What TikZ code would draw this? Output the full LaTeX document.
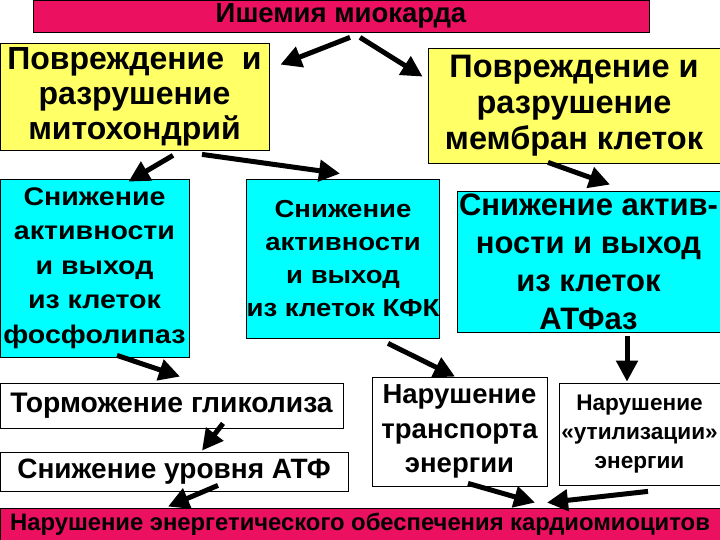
\documentclass[tikz,border=0pt]{standalone}
\usepackage{fontspec}
\setmainfont{Liberation Sans}
\newfontfamily\widesans{Liberation Sans}[FakeStretch=1.12]
\usetikzlibrary{arrows.meta,calc}

\definecolor{ischpink}{RGB}{236,16,96}
\definecolor{damyellow}{RGB}{255,255,102}
\definecolor{actcyan}{RGB}{0,255,255}

\newcommand{\fs}[2]{\fontsize{#1}{#2}\selectfont\bfseries}

\begin{document}
\begin{tikzpicture}[x=1pt,y=-1pt,>={Triangle[length=21pt,width=21pt]},
  every node/.style={draw,inner sep=0pt,align=center,line width=0.8pt},
  arr/.style={->,line width=5pt}]
  \useasboundingbox (0,0) rectangle (720,540);

  % top and bottom bars
  \node[fill=ischpink,minimum width=616,minimum height=32,font=\fs{27.5}{30}] at (341,16) (isch) {Ишемия миокарда};
  \node[fill=ischpink,minimum width=720,minimum height=32,font=\fs{23.8}{27}] at (360,524) (energy) {Нарушение энергетического обеспечения кардиомиоцитов};

  % damage
  \node[fill=damyellow,minimum width=269,minimum height=107,font=\fs{32}{35}] at (134.5,96.5) (mito) {Повреждение\ \ и\\разрушение\\митохондрий};
  \node[fill=damyellow,minimum width=292,minimum height=115,font=\fs{32.5}{36}] at (574,105.5) (memb) {Повреждение и\\разрушение\\мембран клеток};

  % enzymes
  \node[fill=actcyan,minimum width=189,minimum height=178,font=\widesans\fs{25.5}{34.5}] at (94.5,268) (fosfo) {Снижение\\активности\\и выход\\из клеток\\фосфолипаз};
  \node[fill=actcyan,minimum width=192,minimum height=159,font=\widesans\fs{24.6}{33}] at (343,258.5) (kfk) {Снижение\\активности\\и выход\\из клеток КФК};
  \node[fill=actcyan,minimum width=263,minimum height=141,font=\fs{31}{38}] at (588.5,261.5) (atfase) {Снижение актив-\\ности и выход\\из клеток\\АТФаз};

  % results
  \node[fill=white,minimum width=343,minimum height=45,font=\fs{28.3}{31}] at (171.5,405.5) (glik) {Торможение гликолиза};
  \node[fill=white,minimum width=348,minimum height=39,font=\fs{28}{30}] at (174,471.5) (atp) {Снижение уровня АТФ};
  \node[fill=white,minimum width=175,minimum height=109,font=\fs{27.5}{34.5}] at (459.5,431.5) (transp) {Нарушение\\транспорта\\энергии};
  \node[fill=white,minimum width=161,minimum height=102,font=\fs{22.6}{29}] at (639.5,434) (util) {Нарушение\\«утилизации»\\энергии};

  \draw[arr] ($(isch.south)+(9,5)$) -- ($(mito.north east)+(11,22)$);
  \draw[arr] ($(isch.south)+(19,5)$) -- ($(memb.north west)+(-5,29)$);

  \draw[arr] ($(mito.south)+(38.5,5)$) -- ($(fosfo.north)+(34,3)$);
  \draw[arr] ($(mito.south)+(67.5,4)$) -- ($(kfk.north)+(-3,-5)$);
  \draw[arr] ($(memb.south)+(-26,-1)$) -- ($(atfase.north)+(21.5,-6)$);

  \draw[arr] ($(fosfo.south)+(22.5,-2)$) -- ($(glik.north)+(8.5,-6)$);
  \draw[arr] ($(glik.south)+(51.5,-5)$) -- ($(atp.north)+(28,-1)$);
  \draw[arr] ($(atp.south)+(44,-6)$) -- ($(energy.north)+(-192,-1)$);

  \draw[arr] ($(kfk.south)+(45,5)$) -- ($(transp.north)+(-4.5,0)$);
  \draw[arr] ($(atfase.south)+(38.5,4)$) -- ($(util.north)+(-12.5,-1)$);
  \draw[arr] ($(transp.south)+(8.5,-3)$) -- ($(energy.north)+(175,-5)$);
  \draw[arr] ($(util.south)+(8.5,6)$) -- ($(energy.north)+(187,-5)$);
\end{tikzpicture}
\end{document}
